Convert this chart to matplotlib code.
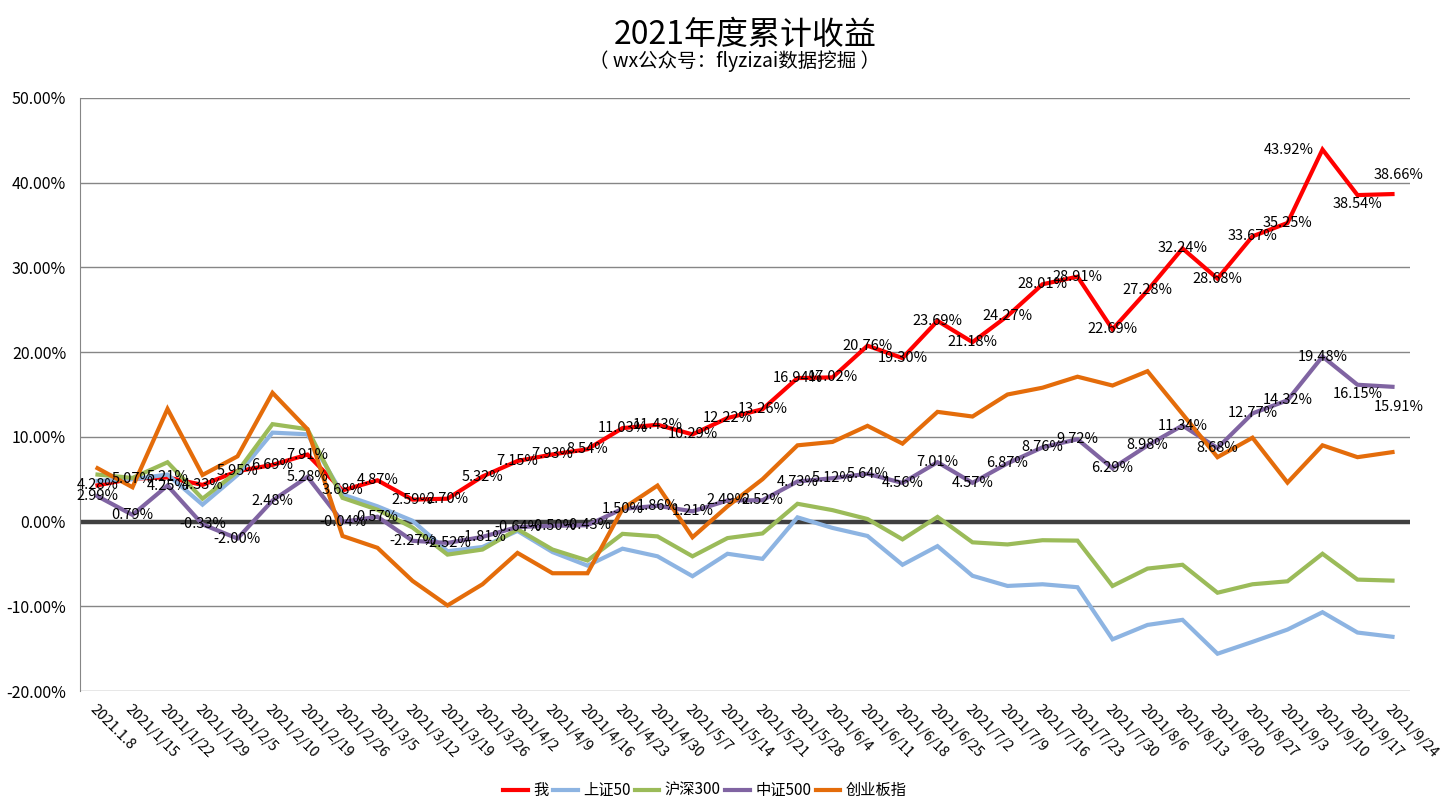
import matplotlib
matplotlib.use('Agg')
import matplotlib.pyplot as plt
from matplotlib.ticker import FixedLocator

plt.rcParams['font.family'] = ['Noto Sans CJK SC', 'DejaVu Sans']

dates = ['2021.1.8', '2021/1/15', '2021/1/22', '2021/1/29', '2021/2/5', '2021/2/10',
         '2021/2/19', '2021/2/26', '2021/3/5', '2021/3/12', '2021/3/19', '2021/3/26',
         '2021/4/2', '2021/4/9', '2021/4/16', '2021/4/23', '2021/4/30', '2021/5/7',
         '2021/5/14', '2021/5/21', '2021/5/28', '2021/6/4', '2021/6/11', '2021/6/18',
         '2021/6/25', '2021/7/2', '2021/7/9', '2021/7/16', '2021/7/23', '2021/7/30',
         '2021/8/6', '2021/8/13', '2021/8/20', '2021/8/27', '2021/9/3', '2021/9/10',
         '2021/9/17', '2021/9/24']

# cumulative return, %
me = [4.28, 5.07, 5.21, 4.33, 5.95, 6.69, 7.91, 3.68, 4.87, 2.59, 2.70, 5.32,
      7.15, 7.93, 8.54, 11.03, 11.43, 10.29, 12.22, 13.26, 16.94, 17.02, 20.76, 19.30,
      23.69, 21.18, 24.27, 28.01, 28.91, 22.69, 27.28, 32.24, 28.68, 33.67, 35.25, 43.92,
      38.54, 38.66]
sz50 = [4.8, 5.0, 5.55, 2.0, 5.5, 10.5, 10.3, 3.2, 1.8, 0.1, -3.5, -3.0,
        -1.1, -3.6, -5.2, -3.2, -4.1, -6.45, -3.8, -4.4, 0.5, -0.75, -1.7, -5.1,
        -2.9, -6.4, -7.6, -7.4, -7.75, -13.9, -12.2, -11.6, -15.6, -14.2, -12.75, -10.7,
        -13.1, -13.6]
hs300 = [5.55, 5.15, 7.0, 2.7, 5.9, 11.5, 10.9, 2.8, 1.4, -0.7, -3.9, -3.3,
         -0.9, -3.3, -4.6, -1.45, -1.75, -4.1, -1.95, -1.4, 2.1, 1.35, 0.3, -2.1,
         0.55, -2.45, -2.7, -2.2, -2.25, -7.6, -5.55, -5.1, -8.4, -7.4, -7.05, -3.8,
         -6.85, -6.97]
zz500 = [2.99, 0.79, 4.25, -0.33, -2.00, 2.48, 5.28, -0.04, 0.57, -2.27, -2.52, -1.81,
         -0.64, -0.50, -0.43, 1.50, 1.86, 1.21, 2.49, 2.52, 4.73, 5.12, 5.64, 4.56,
         7.01, 4.57, 6.87, 8.76, 9.72, 6.29, 8.98, 11.34, 8.68, 12.77, 14.32, 19.48,
         16.15, 15.91]
cyb = [6.3, 4.05, 13.3, 5.5, 7.7, 15.2, 10.9, -1.7, -3.1, -7.0, -9.9, -7.4,
       -3.7, -6.1, -6.1, 1.5, 4.25, -1.85, 1.8, 5.0, 9.0, 9.4, 11.3, 9.2,
       12.95, 12.4, 15.0, 15.8, 17.1, 16.06, 17.75, 12.7, 7.6, 9.9, 4.6, 9.0,
       7.6, 8.2]

series = [('我', me, '#FF0000'),
          ('上证50', sz50, '#8DB4E2'),
          ('沪深300', hs300, '#9BBB59'),
          ('中证500', zz500, '#8064A2'),
          ('创业板指', cyb, '#E46C0A')]

# labels moved by hand in the original (pixels)
me_shift = {35: (-34, 0), 36: (0, -9), 37: (6, 19)}
zz_shift = {36: (0, -9), 37: (6, -20)}

fig = plt.figure(figsize=(14.5, 8), dpi=100)
ax = fig.add_axes([80 / 1450, 1 - 691 / 800, 1330 / 1450, 593 / 800])

x = list(range(len(dates)))
for name, vals, color in series:
    ax.plot(x, vals, color=color, lw=3, label=name, zorder=3,
            solid_joinstyle='miter')

ax.axhline(0, color='#404040', lw=3.2, zorder=2)

def add_labels(vals, shift):
    for i, v in enumerate(vals):
        dx, dy = shift.get(i, (0, 0))
        ax.annotate(f'{v:.2f}%', (i, v), xytext=(dx, dy), textcoords='offset pixels',
                    ha='center', va='center', fontsize=10.5, color='black', zorder=5)

add_labels(me, me_shift)
add_labels(zz500, zz_shift)

ax.set_xlim(-0.5, len(dates) - 0.5)
ax.set_ylim(-20, 50)
yt = list(range(-20, 51, 10))
ax.yaxis.set_major_locator(FixedLocator(yt))
ax.set_yticklabels([f'{v:.2f}%' for v in yt], fontsize=11.5)
ax.grid(axis='y', color='#868686', lw=1)
ax.set_axisbelow(True)
ax.set_xticks(x)
ax.set_xticklabels(dates, rotation=-45, ha='left', va='top', rotation_mode='anchor',
                   fontsize=10.5)
ax.tick_params(axis='both', length=0)
ax.tick_params(axis='y', pad=10)
ax.tick_params(axis='x', pad=8)
for s in ['top', 'right', 'bottom']:
    ax.spines[s].set_visible(False)
ax.spines['left'].set_color('#868686')

fig.text(745 / 1450, 1 - 35 / 800, '2021年度累计收益', ha='center', va='center', fontsize=23)
fig.text(735 / 1450, 1 - 61 / 800, '（ wx公众号：flyzizai数据挖掘 ）', ha='center', va='center',
         fontsize=14)

fig.legend(loc='lower center', bbox_to_anchor=(705 / 1450, -0.016), ncol=5, frameon=False,
           fontsize=11, handlelength=1.6, columnspacing=0.3, handletextpad=0.35)

fig.savefig('out.png', dpi=100, facecolor='white')
